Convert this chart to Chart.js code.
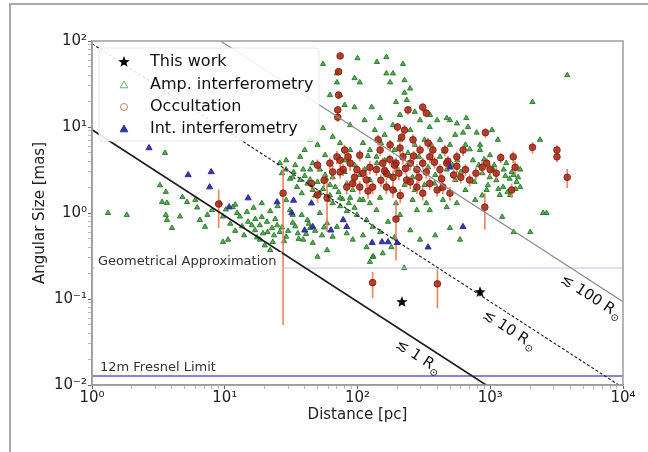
<!DOCTYPE html>
<html>
<head>
<meta charset="utf-8">
<script src="https://cdn.jsdelivr.net/npm/chart.js@4/dist/chart.umd.min.js"></script>
<style>
  html, body { margin: 0; padding: 0; background: #fff; overflow: hidden; }
  #frame { position: absolute; left: 9px; top: 3px; width: 700px; height: 500px;
           border-left: 2px solid #a9a9a9; border-top: 2px solid #a9a9a9; }
  #wrap { position: absolute; left: 0; top: 0; width: 648px; height: 452px; }
</style>
</head>
<body>
<div id="frame"></div>
<div id="wrap"><canvas id="c" width="648" height="452"></canvas></div>
<script>
// Amplitude interferometry: [distance pc, angular size mas]
const ampData = [
  [1.32,1.0],[1.83,0.95],[3.55,5.0],[3.25,2.1],[3.6,1.76],[3.37,1.34],[3.67,1.31],[3.6,0.95],[3.67,0.83],[4.0,0.67],
  [4.6,0.91],[4.8,1.53],[5.2,1.34],[6.0,1.42],[6.2,1.16],[6.5,0.83],[7.1,0.69],[7.4,0.95],[8.0,1.08],[9.2,1.3],
  [9.7,0.91],[11.5,1.17],[12.4,1.0],[13,0.91],[14.7,1.03],[15,0.79],[16,0.72],[16.9,0.63],[18.4,0.72],[19.4,0.58],
  [20.8,0.79],[22.7,0.67],[24.8,0.72],[26,0.6],[9.7,0.46],[10.6,0.49],[18.4,0.49],[20,0.42],[22,0.37],[23,0.46],
  [29,0.53],[32.5,0.77],[35.5,0.58],[39,0.49],[44,0.67],[46,0.45],[50,0.31],[59,0.37],[29,1.42],[31,1.08],
  [32.5,0.95],[38,0.95],[42,0.83],[52,1.0],[59,0.76],[65,0.53],[70,0.69],[83,0.58],[92,0.49],[110,0.55],
  [117,0.4],[130,0.31],[26,3.8],[29,3.2],[32.5,2.6],[37,2.42],[42,2.2],[46,1.85],[52,1.7],[60,1.42],
  [65,1.3],[74,1.2],[83,1.05],[99,0.95],[117,0.83],[130,0.69],[37,4.5],[46,3.8],[52,3.2],[65,2.6],
  [83,2.2],[92,1.85],[104,1.42],[124,1.3],[139,1.08],
  [100,63],[165,65],[70,42],[70,33],[95,37],[104,33],[95,17],[128,17],[148,12.7],[165,42],
  [185,42],[176,33],[226,35],[226,25],[235,20.6],[195,19.5],
  [250,9.2],[296,12],[350,10],[398,12],[470,12.7],[560,11],[660,12.7],[625,8.6],[680,10],[790,8.6],
  [1030,9.2],[1140,7.1],[1320,3.8],[2370,7.1],[3800,40],[2080,19.5],[2500,1.0],
  [870,2.9],[990,2.6],[1110,2.4],[1250,2.0],[1400,2.5],[1580,2.3],[1680,2.0],[740,4.1],[418,4.5],[124,5.4],
  [139,4.5],[110,6.5],[88,5.4],[74,6.5],[65,7.7],
  [440,1.42],[470,1.17],[560,1.3],[350,1.08],[330,1.3],[280,1.08],[260,1.42],[195,1.3],[148,1.5],[88,1.5],
  [110,1.42],[74,1.5],
  [1500,0.6],[2000,0.6],[2650,1.0],[1230,0.9],[225,0.23],[124,0.27],[132,0.31],
  [55,9.7],[50,6.2],[44,7.1],[40,5.4],[57,4.7],[80,4.1],[95,3.6],[113,3.2],[160,4.1],[190,5.4],
  [209,7.1],[185,10.5],[160,8.1],[135,9.2],
  [270,6.2],[320,7.1],[418,7.1],[497,6.2],[545,8.1],[650,6.2],[837,5.4],[995,4.7],[1070,3.6],[1260,3.2],
  [1500,2.77],[1180,1.62],[1410,1.62],[1680,3.2],
  [940,1.85],[770,1.42],[650,1.85],[545,2.42],[470,3.2],[385,2.77],[320,2.12],[270,1.85],[226,2.12],[190,1.85],
  [124,2.42],[104,2.77],[80,3.0],[62,2.12],[57,2.77],[44,3.2],[39,3.2],[34,3.6],[29,4.1],
  [497,12],[352,13.8],[270,15],[209,13.8],[113,12],[88,10.5],[80,18],[62,23.5],[74,23.5],[55,54],
  [140,57],[220,54],[249,28],[837,6.2],[565,4.1],[870,1.6],
  [190,0.52],[250,0.63],[296,0.49],[385,0.55],[497,0.67],[592,0.49],[148,0.6],[170,0.79],[209,0.95],[155,0.34],[180,0.4],
  [11,0.75],[12,0.62],[13.5,0.7],[14,0.55],[17,0.85],[17.5,0.52],[19,0.9],[21,0.6],[23.5,0.55],[24,0.85],
  [27,0.68],[28,0.47],[30,0.62],[34,0.7],[36,0.5],[41,0.57],[43,0.75],[48,0.62],[54,0.55],[56,0.68],
  [27,2.9],[31,2.5],[33,3.0],[35,2.0],[38,1.7],[40,2.7],[44,2.45],[48,1.6],[50,2.3],[55,1.9],
  [58,2.5],[62,1.6],[68,2.0],[72,1.75],[77,1.45],[86,1.3],[95,1.15],
  [120,4.6],[140,3.8],[150,6.5],[175,2.7],[200,3.2],[240,5.0],[260,2.6],[290,4.5],[340,3.4],[360,6.2],
  [380,2.2],[420,1.9],[450,5.2],[520,3.6],[600,3.0],[700,5.5],[760,2.3],[820,3.6],[900,4.2],
  [1050,3.2],[1150,1.9],[1300,2.7],[1350,1.75],[1450,3.0],[1550,1.9],[1620,2.6],[960,2.1],
  [10.2,1.1],[12,1.25],[16.5,1.15],[19,1.3],[22,1.05],[25,1.2]
];

// Lunar occultation: [distance pc, angular size mas, 1-sigma error mas]
const occData = [
  [74,67,5],[72,44,3.5],[72,23.5,2.5],[71,15.8,1.8],[71,13,1.5],[240,15.8,1.8],[310,17,2],[330,14.5,1.5],[200,10,1.2],[215,7.6,0.9],
  [625,5.4,0.8],[920,8.6,1.1],[1490,4.5,0.7],[1540,3.4,0.6],[2080,5.8,0.9],[3180,5.4,0.8],[3180,4.5,0.6],[3800,2.6,0.65],
  [470,3.8,0.6],[370,5.4,0.9],[350,4.5,0.7],[310,3.8,0.6],[280,3.2,0.5],[250,3.8,0.7],[220,4.5,0.8],[195,3.8,0.6],[185,2.6,0.5],[165,2.9,0.5],
  [155,3.8,0.6],[139,3.2,0.5],[124,3.4,0.6],[110,2.9,0.5],[99,3.2,0.5],[88,3.8,0.7],[78,3.2,0.5],[70,4.5,0.8],[235,2.42,0.4],[280,2.0,0.35],
  [310,1.7,0.3],[350,2.2,0.35],[398,1.85,0.3],[440,2.0,0.35],[497,1.7,0.3],[185,1.85,0.35],[165,2.0,0.35],[130,2.0,0.35],[117,2.42,0.4],[104,2.0,0.35],
  [92,2.2,0.35],[83,2.0,0.35],[74,3.0,0.5],[65,3.0,0.6],[1110,2.9,0.5],[940,3.8,0.6],[870,3.4,0.6],[1450,1.85,0.35],[560,4.5,0.7],[209,5.7,0.9],
  [262,7.1,1.1],[296,5.4,0.8],[176,6.2,0.9],[148,5.4,0.8],[190,3.6,0.6],[418,3.2,0.5],[530,2.77,0.45],[650,3.2,0.5],[700,2.42,0.4],[455,5.4,0.8],
  [143,7.1,1.0],[104,4.7,0.7],[74,4.1,0.6],[80,5.4,0.8],[50,3.6,0.6],[45,2.2,0.35],[50,1.62,0.3],[226,9.2,1.4],
  [160,3.1,0.5],[175,4.2,0.6],[205,2.9,0.5],[230,3.3,0.5],[265,4.6,0.7],[290,2.6,0.4],[330,3.0,0.5],[380,3.9,0.6],
  [430,2.5,0.4],[480,4.0,0.6],[560,3.5,0.6],[600,2.6,0.4],[120,1.8,0.35],[150,2.4,0.4],[210,1.6,0.3],[250,2.3,0.4],
  [95,2.6,0.5],[85,4.5,0.7],[62,3.8,0.6],[56,2.4,0.4],[340,6.5,1.0],[1200,4.4,0.6],[1000,3.2,0.5],[780,2.9,0.5],
  [27.5,1.7,1.65],[9,1.27,0.6],[59,1.5,0.9],[130,0.155,0.053],[195,0.85,0.57],[400,0.15,0.072],[910,1.17,0.53]
];

// Intensity interferometry: [distance pc, angular size mas]
const intData = [
  [2.69,5.7],[5.3,2.77],[7.9,3.0],[7.7,2.0],[10.8,1.17],[15,1.49],[24.8,1.34],[33,1.4],[32,1.0],[45,1.3],
  [46,0.69],[40,0.63],[63,0.63],[78,0.83],[83,0.69],[129,0.45],[153,0.46],[170,0.46],[199,0.45],[340,0.40],
  [498,3.4],[623,0.69]
];

// This work: [distance pc, angular size mas, 1-sigma error mas]
const workData = [[216,0.092,0],[837,0.12,0.012]];

// Reference radii (solar radii) and the diameter of 1 R_sun seen from 1 pc, in mas
const radii = [1, 10, 100];
const sunDiameterAt1pc = 9.3;
const radiusLabelDist = [325, 1574, 6530];

// Horizontal limits (mas)
const geomLimit = 0.229;
const fresnelLimit = 0.0127;

const xRange = [1, 1e4];
const yRange = [0.01, 100];
const supDigits = {'-':'⁻','0':'⁰','1':'¹','2':'²','3':'³','4':'⁴','5':'⁵','6':'⁶','7':'⁷','8':'⁸','9':'⁹'};
const powLabel = e => '10' + String(e).split('').map(ch => supDigits[ch]).join('');

function logTicks(min, max) {
  const t = [];
  const e0 = Math.round(Math.log10(min)), e1 = Math.round(Math.log10(max));
  for (let e = e0; e < e1; e++) {
    for (let m = 1; m < 10; m++) t.push({ value: m * Math.pow(10, e) });
  }
  t.push({ value: max });
  return t;
}
const isDecade = v => Math.abs(Math.log10(v) - Math.round(Math.log10(v))) < 1e-6;

function starImage(r, color) {
  const c = document.createElement('canvas');
  c.width = c.height = 2 * r + 2;
  const g = c.getContext('2d');
  g.translate(r + 1, r + 1);
  g.beginPath();
  for (let i = 0; i < 10; i++) {
    const rr = i % 2 ? r * 0.42 : r;
    const a = -Math.PI / 2 + i * Math.PI / 5;
    g.lineTo(rr * Math.cos(a), rr * Math.sin(a));
  }
  g.closePath();
  g.fillStyle = color;
  g.fill();
  return c;
}
const starImg = starImage(6, '#000');

function errorSegments(rows) {
  const out = [];
  rows.forEach(([d, t, s]) => {
    if (!s) return;
    out.push({ x: d, y: t - s }, { x: d, y: t + s }, { x: d, y: null });
  });
  return out;
}

function radiusLine(r) {
  const k = sunDiameterAt1pc * r;
  const d0 = Math.max(xRange[0], k / yRange[1]);
  const d1 = Math.min(xRange[1], k / yRange[0]);
  return [{ x: d0, y: k / d0 }, { x: d1, y: k / d1 }];
}

const green = { stroke: 'rgba(38,128,38,0.95)', fill: 'rgba(55,145,55,0.8)' };
const red = { stroke: 'rgba(140,30,15,0.95)', fill: 'rgba(165,40,22,0.85)' };
const blue = { stroke: '#2e2e9e', fill: '#3535a8' };

const legendItems = [
  { label: 'This work', kind: 'star' },
  { label: 'Amp. interferometry', kind: 'tri', stroke: 'rgba(60,160,60,0.8)', fill: null },
  { label: 'Occultation', kind: 'circle', stroke: 'rgba(190,100,80,0.85)', fill: null },
  { label: 'Int. interferometry', kind: 'tri', stroke: blue.stroke, fill: blue.fill }
];

function drawMarker(ctx, kind, x, y, stroke, fill) {
  ctx.save();
  if (kind === 'star') {
    ctx.drawImage(starImg, x - starImg.width / 2, y - starImg.height / 2);
  } else {
    ctx.beginPath();
    if (kind === 'tri') {
      const r = 4;
      ctx.moveTo(x, y - r);
      ctx.lineTo(x + r * 0.95, y + r * 0.7);
      ctx.lineTo(x - r * 0.95, y + r * 0.7);
      ctx.closePath();
    } else {
      ctx.arc(x, y, 3.5, 0, Math.PI * 2);
    }
    if (fill) { ctx.fillStyle = fill; ctx.fill(); }
    ctx.strokeStyle = stroke; ctx.lineWidth = 1; ctx.stroke();
  }
  ctx.restore();
}

const annotate = {
  id: 'annotate',
  afterDatasetsDraw(chart) {
    const { ctx, chartArea: a, scales: { x, y } } = chart;
    ctx.save();

    // limit labels
    ctx.font = '13px "DejaVu Sans"';
    ctx.textBaseline = 'middle';
    ctx.textAlign = 'left';
    const gy = y.getPixelForValue(geomLimit);
    const gText = 'Geometrical Approximation';
    const gw = ctx.measureText(gText).width;
    ctx.fillStyle = '#fff';
    ctx.fillRect(a.left + 3, gy - 16, gw + 8, 19);
    ctx.fillStyle = '#333';
    ctx.fillText(gText, a.left + 6, gy - 6);
    const fy = y.getPixelForValue(fresnelLimit);
    ctx.fillText('12m Fresnel Limit', a.left + 8, fy - 8);

    // radius labels along the lines
    radii.forEach((r, i) => {
      const k = sunDiameterAt1pc * r;
      const d = radiusLabelDist[i];
      const px = x.getPixelForValue(d), py = y.getPixelForValue(k / d);
      const qx = x.getPixelForValue(d * 2), qy = y.getPixelForValue(k / (d * 2));
      const ang = Math.atan2(qy - py, qx - px);
      ctx.save();
      ctx.translate(px, py);
      ctx.rotate(ang);
      const main = '≲ ' + r + ' R';
      ctx.font = '15px "DejaVu Sans"';
      const w1 = ctx.measureText(main).width;
      ctx.font = '10px "DejaVu Sans"';
      const w2 = ctx.measureText('⊙').width;
      const x0 = -(w1 + w2) / 2;
      ctx.fillStyle = '#111';
      ctx.font = '15px "DejaVu Sans"';
      ctx.fillText(main, x0, 13.5);
      ctx.font = '10px "DejaVu Sans"';
      ctx.fillText('⊙', x0 + w1 + 0.5, 18.5);
      ctx.restore();
    });

    // legend
    const L = { x: a.left + 7, y: a.top + 7, w: 220, h: 93 };
    ctx.beginPath();
    if (ctx.roundRect) ctx.roundRect(L.x, L.y, L.w, L.h, 4); else ctx.rect(L.x, L.y, L.w, L.h);
    ctx.fillStyle = 'rgba(255,255,255,0.88)';
    ctx.fill();
    ctx.strokeStyle = 'rgba(225,225,225,0.8)';
    ctx.lineWidth = 1;
    ctx.stroke();
    ctx.font = '16px "DejaVu Sans"';
    ctx.textBaseline = 'middle';
    const rows = [62, 85, 107, 129];
    legendItems.forEach((it, i) => {
      drawMarker(ctx, it.kind, 124, rows[i], it.stroke, it.fill);
      ctx.fillStyle = '#111';
      ctx.fillText(it.label, 150, rows[i]);
    });

    // axes frame
    ctx.strokeStyle = '#9c9c9c';
    ctx.lineWidth = 1.5;
    ctx.strokeRect(a.left, a.top, a.right - a.left, a.bottom - a.top);
    ctx.restore();
  }
};

Chart.defaults.font.family = '"DejaVu Sans", sans-serif';
Chart.defaults.color = '#222';

const axisCommon = (min, max) => ({
  type: 'logarithmic',
  min, max,
  afterBuildTicks: s => { s.ticks = logTicks(min, max); },
  ticks: {
    autoSkip: false, maxRotation: 0, minRotation: 0,
    font: { size: 15 }, color: '#222',
    callback: v => isDecade(v) ? powLabel(Math.round(Math.log10(v))) : ''
  },
  grid: {
    drawOnChartArea: false, drawTicks: true, tickLength: 4,
    tickColor: c => (c.tick && isDecade(c.tick.value)) ? '#666' : '#bbb'
  },
  border: { color: '#9c9c9c', width: 1.5 }
});

const xAxis = axisCommon(xRange[0], xRange[1]);
xAxis.ticks.padding = 0;
xAxis.title = { display: true, text: 'Distance [pc]', font: { size: 15 }, color: '#222', padding: { top: 0, bottom: 6 } };
xAxis.afterFit = s => { s.height = 45; };

const yAxis = axisCommon(yRange[0], yRange[1]);
yAxis.ticks.padding = 1;
yAxis.title = { display: true, text: 'Angular Size [mas]', font: { size: 15 }, color: '#222', padding: { top: 9, bottom: 0 } };
yAxis.afterFit = s => { s.width = 70; };

const refLine = (data, color, width, dash) => ({
  type: 'scatter', data, showLine: true, pointRadius: 0, borderColor: color,
  borderWidth: width, borderDash: dash || [], order: 0
});

new Chart(document.getElementById('c'), {
  type: 'scatter',
  data: {
    datasets: [
      { data: ampData.map(([d, t]) => ({ x: d, y: t })), pointStyle: 'triangle', pointRadius: 3,
        borderWidth: 1, borderColor: green.stroke, backgroundColor: green.fill,
        pointBackgroundColor: green.fill, pointBorderColor: green.stroke, order: 6 },
      { data: errorSegments(occData), showLine: true, pointRadius: 0, borderColor: 'rgba(228,125,88,0.9)',
        borderWidth: 1.7, order: 5 },
      { data: occData.map(([d, t]) => ({ x: d, y: t })), pointStyle: 'circle', pointRadius: 3.3,
        borderWidth: 1, borderColor: red.stroke, backgroundColor: red.fill,
        pointBackgroundColor: red.fill, pointBorderColor: red.stroke, order: 4 },
      { data: intData.map(([d, t]) => ({ x: d, y: t })), pointStyle: 'triangle', pointRadius: 3.5,
        borderWidth: 1, borderColor: blue.stroke, backgroundColor: blue.fill,
        pointBackgroundColor: blue.fill, pointBorderColor: blue.stroke, order: 3 },
      { data: errorSegments(workData), showLine: true, pointRadius: 0, borderColor: '#000', borderWidth: 1.2, order: 2 },
      { data: workData.map(([d, t]) => ({ x: d, y: t })), pointStyle: starImg, pointRadius: 6, order: 1 },
      refLine(radiusLine(radii[0]), '#1a1a1a', 1.6),
      refLine(radiusLine(radii[1]), '#1a1a1a', 1.1, [3, 2]),
      refLine(radiusLine(radii[2]), '#8c8c8c', 1.2),
      refLine([{ x: xRange[0], y: geomLimit }, { x: xRange[1], y: geomLimit }], '#b4c6ea', 1),
      refLine([{ x: xRange[0], y: fresnelLimit }, { x: xRange[1], y: fresnelLimit }], '#8888cc', 2)
    ]
  },
  options: {
    responsive: false,
    animation: false,
    devicePixelRatio: 1,
    layout: { padding: { left: 22, top: 41, right: 25, bottom: 22 } },
    plugins: { legend: { display: false }, tooltip: { enabled: false } },
    scales: { x: xAxis, y: yAxis }
  },
  plugins: [annotate]
});
</script>
</body>
</html>
